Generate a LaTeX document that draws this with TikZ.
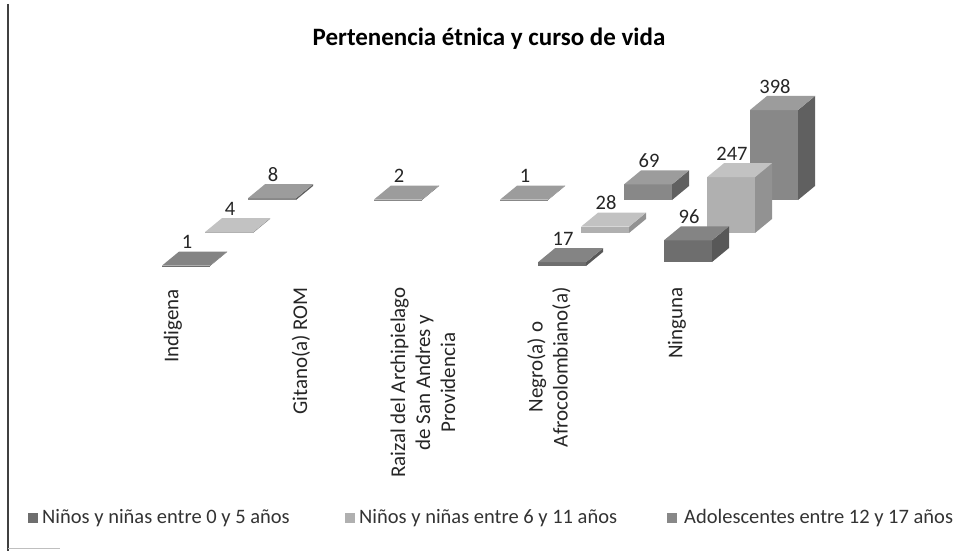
\documentclass[tikz,border=0pt]{standalone}
\usepackage{fontspec}
\setmainfont{Carlito}
\definecolor{sAf}{RGB}{110,110,110}
\definecolor{sAt}{RGB}{132,132,132}
\definecolor{sAs}{RGB}{88,88,88}
\definecolor{sBf}{RGB}{176,176,176}
\definecolor{sBt}{RGB}{194,194,194}
\definecolor{sBs}{RGB}{146,146,146}
\definecolor{sCf}{RGB}{136,136,136}
\definecolor{sCt}{RGB}{156,156,156}
\definecolor{sCs}{RGB}{96,96,96}
\newcommand\drawbarbox[6]{% name, x, y, height, series letter, label
  \begin{scope}[shift={(#2,#3)}]
    \fill[s#5f] (0,0) rectangle (48,-#4);
    \fill[s#5s] (48,0) -- (65,-14) -- (65,-#4-14) -- (48,-#4) -- cycle;
    \fill[s#5t] (0,-#4) -- (48,-#4) -- (65,-#4-14) -- (17,-#4-14) -- cycle;
    \node[vallab] (#1) at (25,-#4-17) {#6};
  \end{scope}}
\begin{document}
\begin{tikzpicture}[x=1pt,y=-1pt,
  vallab/.style={anchor=base,inner sep=0pt,font=\fontsize{20.5}{24}\selectfont,text=black!85},
  axlab/.style={rotate=90,anchor=east,inner sep=0pt,align=center,font=\fontsize{21}{25}\selectfont,text=black!85},
  leglab/.style={anchor=west,inner sep=0pt,font=\fontsize{20.5}{24}\selectfont,text=black!80},
  titlab/.style={inner sep=0pt,anchor=base,font=\fontsize{25}{30}\selectfont\bfseries}]
\useasboundingbox (0,0) rectangle (959,551);
\fill[white] (0,0) rectangle (959,551);
\draw[line width=1.6pt,black!75] (8,4) -- (8,551);
\draw[line width=1pt,black!25] (8,548) -- (60,548);

\node[titlab] (title) at (489,46) {Pertenencia étnica y curso de vida};

% bars: x = 162 + 126c + 43s, y = 266 - 33s, height = 0.226*value
\drawbarbox{vA1}{162}{266}{0.4}{A}{1}
\drawbarbox{vB1}{205}{233}{0.9}{B}{4}
\drawbarbox{vC1}{248}{200}{1.8}{C}{8}
\drawbarbox{vC2}{374}{200}{0.5}{C}{2}
\drawbarbox{vC3}{500}{200}{0.3}{C}{1}
\drawbarbox{vA4}{538}{266}{3.8}{A}{17}
\drawbarbox{vB4}{581}{233}{6.3}{B}{28}
\drawbarbox{vC4}{624}{200}{15.6}{C}{69}
\drawbarbox{vC5}{750}{200}{90}{C}{398}
\drawbarbox{vB5}{707}{233}{55.8}{B}{247}
\drawbarbox{vA5}{664}{262}{21.7}{A}{96}

\node[axlab] (ind) at (173,289) {Indigena};
\node[axlab] (git) at (301,287) {Gitano(a) ROM};
\node[axlab] (rai) at (423,287) {Raizal del Archipielago\\de San Andres y\\Providencia};
\node[axlab] (neg) at (549,287) {Negro(a) o\\Afrocolombiano(a)};
\node[axlab] (nin) at (677,287) {Ninguna};

\fill[sAf] (28,513) rectangle (38,523);
\node[leglab] (lg1) at (42,518) {Niños y niñas entre 0 y 5 años};
\fill[sBf] (345,513) rectangle (355,523);
\node[leglab] (lg2) at (359,518) {Niños y niñas entre 6 y 11 años};
\fill[sCf] (667,513) rectangle (677,523);
\node[leglab] (lg3) at (684,518) {Adolescentes entre 12 y 17 años};
\end{tikzpicture}
\end{document}
